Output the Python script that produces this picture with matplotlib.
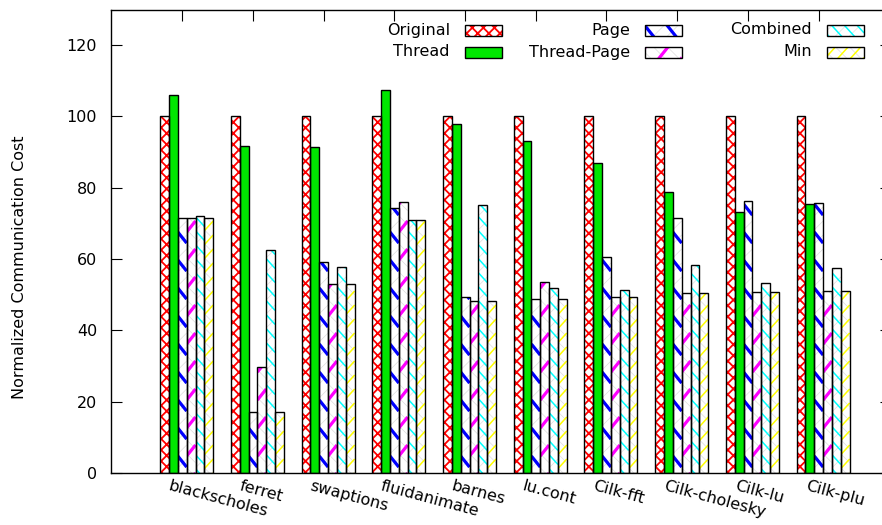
import numpy as np
import matplotlib
matplotlib.use('Agg')
import matplotlib.pyplot as plt
from matplotlib.patches import Rectangle
from matplotlib.collections import LineCollection
from matplotlib.transforms import ScaledTranslation, IdentityTransform

benchmarks = ['blackscholes', 'ferret', 'swaptions', 'fluidanimate', 'barnes',
              'lu.cont', 'Cilk-fft', 'Cilk-cholesky', 'Cilk-lu', 'Cilk-plu']
original = [100, 100, 100, 100, 100, 100, 100, 100, 100, 100]
thread = [106.0, 91.8, 91.3, 107.5, 97.9, 93.1, 86.9, 78.8, 73.2, 75.5]
page = [71.6, 17.0, 59.1, 74.2, 49.5, 48.8, 60.5, 71.5, 76.2, 75.8]
thread_page = [71.6, 29.7, 53.0, 75.9, 48.2, 53.6, 49.3, 50.6, 50.7, 51.0]
combined = [72.1, 62.5, 57.7, 71.1, 75.1, 51.9, 51.2, 58.3, 53.2, 57.6]
min_cost = [71.6, 17.0, 52.9, 71.1, 48.2, 48.8, 49.3, 50.6, 50.7, 51.0]

# label, values, face, fill pattern
# pattern: ('hatch', str, colour, lw) or ('stripe', colour, lw, spacing px, slope)
series = [
    ('Original', original, 'white', ('hatch', 'xxx', 'red', 1.3)),
    ('Thread', thread, '#00e600', None),
    ('Page', page, 'white', ('stripe', 'blue', 2.3, 28, -1.25)),
    ('Thread-Page', thread_page, 'white', ('stripe', 'magenta', 2.3, 28, 1.25)),
    ('Combined', combined, 'white', ('stripe', 'cyan', 1.1, 14, -1.1)),
    ('Min', min_cost, 'white', ('stripe', 'yellow', 1.1, 14, 1.1)),
]

plt.rcParams['font.family'] = 'DejaVu Sans'
plt.rcParams['font.size'] = 11.5

fig = plt.figure(figsize=(8.82, 5.25), dpi=100)
ax = fig.add_axes([111 / 882, 52 / 525, 780 / 882, 463.5 / 525])
ax.set_xlim(-1.07, 9.96)
ax.set_ylim(0, 130)

x = np.arange(len(benchmarks))
width = 0.125


def stripes(patch, color, lw, spacing, slope, z):
    # gnuplot-like pattern lines, clipped to the patch
    bb = patch.get_window_extent()
    x0, x1, y0, y1 = bb.x0, bb.x1, bb.y0, bb.y1
    w = x1 - x0
    segs = []
    c = y0 - abs(slope) * w - spacing
    while c < y1 + abs(slope) * w + spacing:
        segs.append([(x0, c), (x1, c + slope * w)])
        c += spacing
    lc = LineCollection(segs, colors=color, linewidths=lw, transform=IdentityTransform(),
                        zorder=z)
    ax.add_collection(lc, autolim=False)
    lc.set_clip_path(patch)


def fill_pattern(patch, pattern, z):
    if pattern is None:
        return
    if pattern[0] == 'hatch':
        _, h, col, hlw = pattern
        patch.set_hatch(h)
        patch.set_edgecolor(col)
        if hasattr(patch, 'set_hatch_linewidth'):
            patch.set_hatch_linewidth(hlw)
    else:
        _, col, lw, sp, m = pattern
        stripes(patch, '#dddddd', 0.5, 14, -m / abs(m) * 1.0, z)
        stripes(patch, col, lw, sp, m, z)


for k, (label, vals, face, pattern) in enumerate(series):
    pos = x + (k - 2.5) * width
    with plt.rc_context({'hatch.linewidth': 1.3}):
        bars = ax.bar(pos, vals, width, color=face, linewidth=0, zorder=2)
    for p in bars:
        fill_pattern(p, pattern, 2.5)
    ax.bar(pos, vals, width, color='none', edgecolor='black', linewidth=1.0, zorder=3)

    # legend entry, gnuplot style: text right-aligned, swatch on the right
    col, row = divmod(k, 2)
    right = [502, 682, 864][col]
    yc = [30, 52][row]
    sw_x0 = (right - 37 - 111) / 780
    sw_y0 = 1 - (yc + 5.5 - 9.5) / 463.5
    with plt.rc_context({'hatch.linewidth': 1.3}):
        r = Rectangle((sw_x0, sw_y0), 37 / 780, 11 / 463.5, transform=ax.transAxes,
                      facecolor=face, linewidth=0, zorder=4)
    ax.add_patch(r)
    fill_pattern(r, pattern, 4.5)
    ax.add_patch(Rectangle((sw_x0, sw_y0), 37 / 780, 11 / 463.5, transform=ax.transAxes,
                           facecolor='none', edgecolor='black',
                           linewidth=1.0, clip_on=False, zorder=5))
    ax.text((right - 52 - 111) / 780, 1 - (yc - 9.5) / 463.5, label,
            transform=ax.transAxes, ha='right', va='center', fontsize=11.5)

ax.set_yticks(range(0, 121, 20))
ax.set_xticks(x - 0.065)

ax.tick_params(direction='in', length=8, width=0.8, top=True, right=True,
               labelsize=11.5)
ax.tick_params(axis='y', pad=10)
ax.tick_params(axis='x', pad=4)
for s in ax.spines.values():
    s.set_linewidth(1.0)
ax.spines['right'].set_visible(False)

# rotated labels, shifted left like gnuplot does
ax.set_xticklabels(benchmarks, rotation=-15, ha='left', va='top',
                   rotation_mode='anchor')
off = ScaledTranslation(-0.11, 0, fig.dpi_scale_trans)
for lbl in ax.get_xticklabels():
    lbl.set_transform(lbl.get_transform() + off)

ax.set_ylabel('Normalized Communication Cost', fontsize=11.5)
ax.yaxis.set_label_coords(-0.108, 0.444)

fig.savefig('out.png', dpi=100)
